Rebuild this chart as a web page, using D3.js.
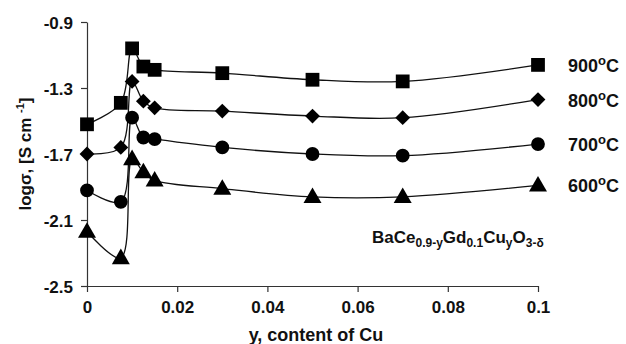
<!DOCTYPE html>
<html>
<head>
<meta charset="utf-8">
<script src="https://cdn.jsdelivr.net/npm/d3@7"></script>
<style>
  body { margin: 0; background: #fff; }
  svg text { font-family: Arial, "Liberation Sans", sans-serif; font-weight: bold; fill: #111; }
</style>
</head>
<body>
<svg id="chart" width="626" height="344"></svg>
<script>
// Cu content y
const cuContent = [0, 0.0075, 0.01, 0.0125, 0.015, 0.03, 0.05, 0.07, 0.1];

// log conductivity per temperature
const t900 = [-1.52, -1.39, -1.06, -1.17, -1.19, -1.21, -1.25, -1.26, -1.16];
const t800 = [-1.70, -1.66, -1.26, -1.38, -1.42, -1.44, -1.47, -1.48, -1.37];
const t700 = [-1.92, -1.99, -1.48, -1.60, -1.61, -1.66, -1.70, -1.71, -1.64];
const t600 = [-2.17, -2.33, -1.73, -1.81, -1.86, -1.91, -1.96, -1.96, -1.89];

const seriesNames = ['900', '800', '700', '600'];

const yTicks = [-0.9, -1.3, -1.7, -2.1, -2.5];
const xTicks = [0, 0.02, 0.04, 0.06, 0.08, 0.1];

const margin = {top: 22, right: 88, bottom: 58, left: 87};
const width = 626, height = 344;

const svg = d3.select('#chart');

const x = d3.scaleLinear()
  .domain([0, 0.1])
  .range([margin.left, width - margin.right]);

const y = d3.scaleLinear()
  .domain([-2.5, -0.9])
  .range([height - margin.bottom, margin.top]);

// axes
const yAxis = svg.append('g')
  .attr('transform', `translate(${margin.left},0)`)
  .call(d3.axisLeft(y).tickValues(yTicks).tickSize(6).tickSizeOuter(0));

const xAxis = svg.append('g')
  .attr('transform', `translate(0,${height - margin.bottom})`)
  .call(d3.axisBottom(x).tickValues(xTicks).tickSize(6).tickSizeOuter(0)
    .tickFormat(d => d === 0 ? '0' : (d === 0.1 ? '0.1' : d3.format('.2f')(d))));

[yAxis, xAxis].forEach(ax => {
  ax.selectAll('path, line').attr('stroke', '#333').attr('stroke-width', 1.2);
  ax.selectAll('text').style('font-size', '17px').attr('fill', '#111');
});
yAxis.selectAll('text').attr('x', -14).attr('dy', '0.36em')
  .text(d => d3.format('.1f')(d).replace('−', '-'));
xAxis.selectAll('text').attr('y', 15);

// series lines + markers
const lineGen = d3.line()
  .x((d, i) => x(cuContent[i]))
  .y(d => y(d))
  .curve(d3.curveCatmullRom.alpha(0.5));

const allSeries = [t900, t800, t700, t600];
const markerFor = [
  {type: d3.symbolSquare, size: 190, rot: 0, dy: 0},
  {type: d3.symbolSquare, size: 110, rot: 45, dy: 0},
  {type: d3.symbolCircle, size: 150, rot: 0, dy: 0},
  {type: d3.symbolTriangle, size: 140, rot: 0, dy: 1}
];

allSeries.forEach((vals, si) => {
  svg.append('path')
    .datum(vals)
    .attr('d', lineGen)
    .attr('fill', 'none')
    .attr('stroke', '#111')
    .attr('stroke-width', 1.3);

  const m = markerFor[si];
  const sym = d3.symbol().type(m.type).size(m.size);
  svg.append('g').selectAll('path')
    .data(vals)
    .join('path')
    .attr('d', sym)
    .attr('transform', (d, i) => `translate(${x(cuContent[i])},${y(d) + m.dy}) rotate(${m.rot})`)
    .attr('fill', '#000');

  // temperature label
  const lbl = svg.append('text')
    .attr('x', 568)
    .attr('y', y(vals[vals.length - 1]) + 7)
    .style('font-size', '18px');
  lbl.append('tspan').text(seriesNames[si]);
  lbl.append('tspan').attr('dy', -7).style('font-size', '13px').text('o');
  lbl.append('tspan').attr('dy', 7).text('C');
});

// composition annotation
const comp = svg.append('text')
  .attr('x', 372)
  .attr('y', 243)
  .style('font-size', '17px');
const parts = [['BaCe', false], ['0.9-y', true], ['Gd', false], ['0.1', true],
               ['Cu', false], ['y', true], ['O', false], ['3-δ', true]];
let prevSub = false;
parts.forEach(([t, sub]) => {
  const ts = comp.append('tspan').text(t);
  if (sub) ts.style('font-size', '12px');
  if (sub !== prevSub) ts.attr('dy', sub ? 4 : -4);
  prevSub = sub;
});

// axis titles
svg.append('text')
  .attr('x', 316)
  .attr('y', 341)
  .attr('text-anchor', 'middle')
  .style('font-size', '18px')
  .text('y, content of Cu');

const yt = svg.append('text')
  .attr('transform', `translate(31,154) rotate(-90)`)
  .attr('text-anchor', 'middle')
  .style('font-size', '17px');
yt.append('tspan').text('logσ, [S cm ');
yt.append('tspan').attr('dy', -7).style('font-size', '11px').text('-1');
yt.append('tspan').attr('dy', 7).text(']');
</script>
</body>
</html>
